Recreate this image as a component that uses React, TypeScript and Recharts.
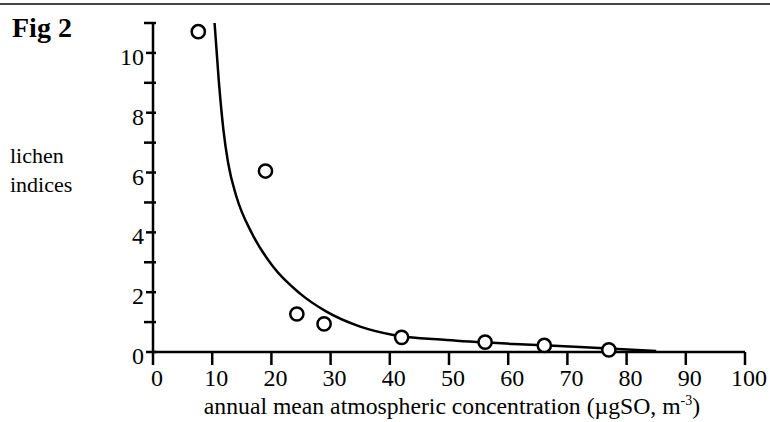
import React from 'react';
import { ScatterChart, Scatter, XAxis, YAxis } from 'recharts';

// observed lichen indices at each site
const siteConc = [7.65, 19.0, 24.3, 28.9, 42.0, 56.1, 66.1, 77.0];
const siteIndex = [10.71, 6.05, 1.27, 0.94, 0.49, 0.33, 0.22, 0.07];

// fitted curve
const fitConc = [10.4, 11.1, 11.9, 12.7, 14.1, 16.7, 20.3, 24.8, 29.3, 35.0, 40.6, 49.6, 60.9, 72.1, 85.0];
const fitIndex = [11.0, 9.1, 7.42, 6.31, 5.19, 3.97, 2.85, 1.96, 1.35, 0.85, 0.57, 0.4, 0.27, 0.17, 0.03];

const xTicks = [0, 10, 20, 30, 40, 50, 60, 70, 80, 90, 100];
const yTicks = [0, 1, 2, 3, 4, 5, 6, 7, 8, 9, 10, 11];
const yLabelled = [0, 2, 4, 6, 8, 10];

const points = siteConc.map((x, i) => ({ x, y: siteIndex[i] }));
const curve = fitConc.map((x, i) => ({ x, y: fitIndex[i] }));

const serif = '"Liberation Serif", "Times New Roman", serif';
const ink = '#000';

const YTick = (props: any) => {
  const { x, y, payload } = props;
  const labelled = yLabelled.includes(payload.value);
  return (
    <g>
      <line x1={x - (labelled ? 7 : 9)} x2={x + 3} y1={y} y2={y} stroke={ink} strokeWidth={2.5} />
      {labelled && (
        <text x={x - 9} y={y + 12} textAnchor="end" fontSize={24} fontFamily={serif} fill={ink}>
          {payload.value}
        </text>
      )}
    </g>
  );
};

const XTick = (props: any) => {
  const { x, y, payload } = props;
  return (
    <g>
      <line x1={x} x2={x} y1={y} y2={y + 13} stroke={ink} strokeWidth={2.5} />
      <text x={x + 4} y={y + 34} textAnchor="middle" fontSize={24} fontFamily={serif} fill={ink}>
        {payload.value}
      </text>
    </g>
  );
};

const Ring = (props: any) => {
  const { cx, cy } = props;
  return <circle cx={cx} cy={cy} r={6.6} fill="#fff" stroke={ink} strokeWidth={2.5} />;
};

export default function App() {
  return (
    <div style={{ position: 'relative', width: 770, height: 422, background: '#fff' }}>
      <style>{'body{margin:0}'}</style>
      <div style={{ position: 'absolute', left: 0, top: 3, width: 770, height: 2, background: '#444' }} />
      <ScatterChart width={770} height={422} margin={{ top: 23, right: 25, bottom: 0, left: 0 }}>
        <XAxis
          type="number"
          dataKey="x"
          domain={[0, 100]}
          ticks={xTicks}
          interval={0}
          height={70}
          tickSize={0}
          tickMargin={0}
          tick={XTick}
          axisLine={{ stroke: ink, strokeWidth: 2.5 }}
        />
        <YAxis
          type="number"
          dataKey="y"
          domain={[0, 11]}
          ticks={yTicks}
          interval={0}
          width={153}
          tickSize={0}
          tickMargin={0}
          tick={YTick}
          axisLine={{ stroke: ink, strokeWidth: 2.5 }}
        />
        <Scatter
          data={curve}
          line={{ stroke: ink, strokeWidth: 2.5 }}
          lineJointType="monotoneX"
          shape={() => <g />}
          isAnimationActive={false}
        />
        <Scatter data={points} shape={Ring} isAnimationActive={false} />
      </ScatterChart>
      <svg
        width={770}
        height={422}
        style={{ position: 'absolute', left: 0, top: 0, pointerEvents: 'none' }}
      >
        <text x={12} y={37} fontSize={28} fontWeight="bold" fontFamily={serif} fill={ink}>
          Fig 2
        </text>
        <text x={10} y={163} fontSize={22} fontFamily={serif} fill={ink}>
          lichen
        </text>
        <text x={10} y={192} fontSize={22} fontFamily={serif} fill={ink}>
          indices
        </text>
        <text x={452} y={414} textAnchor="middle" fontSize={23.7} fontFamily={serif} fill={ink}>
          annual mean atmospheric concentration (µgSO, m
          <tspan fontSize={14} dy={-9}>-3</tspan>
          <tspan dy={9}>)</tspan>
        </text>
      </svg>
    </div>
  );
}
